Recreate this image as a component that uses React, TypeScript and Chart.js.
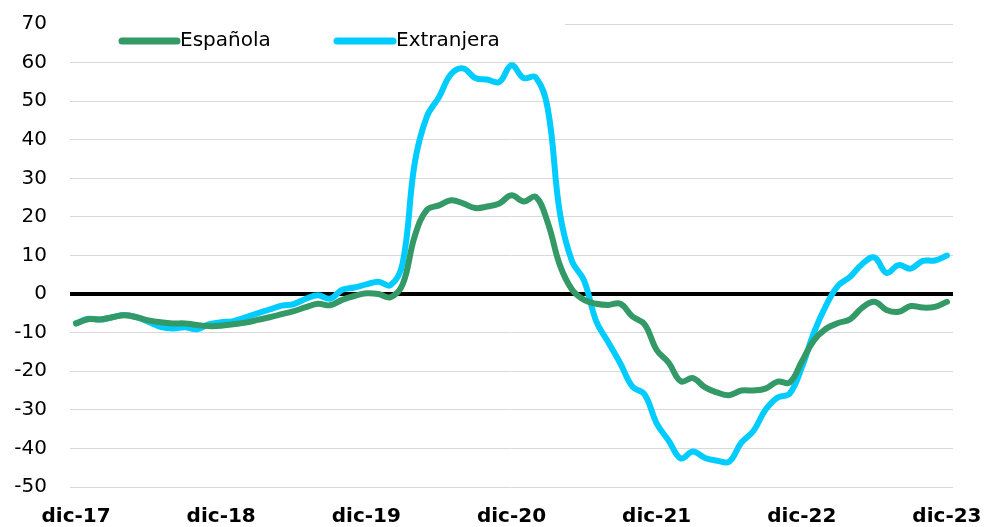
import { useEffect, useRef } from 'react';
import { Chart, registerables } from 'chart.js';

Chart.register(...registerables);

const MONTHS = ['dic', 'ene', 'feb', 'mar', 'abr', 'may', 'jun', 'jul', 'ago', 'sep', 'oct', 'nov'];
const START_YEAR = 17;
const END_YEAR = 23;

const ESPANOLA = [
  -7.6, -6.5, -6.6, -6.0, -5.5, -6.0, -6.8, -7.3, -7.6, -7.6, -8.0, -8.3,
  -8.2, -7.8, -7.4, -6.7, -6.0, -5.2, -4.4, -3.4, -2.5, -2.9, -1.5, -0.5,
  0.2, 0.0, -0.8, 2.5, 15.0, 21.8, 23.0, 24.3, 23.5, 22.3, 22.7, 23.5,
  25.6, 24.0, 25.2, 18.5, 7.5, 1.2, -1.5, -2.5, -2.8, -2.5, -5.8, -7.8,
  -14.5, -17.8, -22.6, -21.8, -24.2, -25.5, -26.2, -25.0, -25.0, -24.5, -22.7, -22.9,
  -17.5, -12.0, -9.0, -7.5, -6.5, -3.5, -2.0, -4.1, -4.6, -3.1, -3.5, -3.3,
  -2.0,
];

const EXTRANJERA = [
  -7.6, -6.4, -6.6, -6.0, -5.4, -6.0, -7.2, -8.5, -8.9, -8.6, -9.1, -7.8,
  -7.3, -7.0, -6.0, -5.0, -4.0, -3.0, -2.6, -1.2, -0.3, -1.2, 1.1, 1.7,
  2.5, 3.2, 2.3, 8.0, 34.0, 46.0, 51.0, 57.0, 58.5, 56.0, 55.6, 55.0,
  59.3, 56.0, 56.2, 48.0, 21.0, 8.5, 3.5, -7.0, -12.5, -18.0, -24.0, -26.0,
  -33.5, -38.0, -42.6, -40.8, -42.5, -43.2, -43.4, -38.5, -35.5, -30.0, -26.8, -25.8,
  -19.0, -10.0, -3.0, 2.2, 4.5, 7.8, 9.5, 5.5, 7.5, 6.6, 8.6, 8.7,
  10.0,
];

const SERIES_NAMES = ['Española', 'Extranjera'];
const SERIES_COLORS = ['#339966', '#00CCFF'];
const Y_MIN = -50;
const Y_MAX = 70;
const Y_STEP = 10;

function buildLabels(): string[] {
  const labels: string[] = [];
  for (let y = START_YEAR; y <= END_YEAR; y++) {
    for (let m = 0; m < 12; m++) {
      if (y === END_YEAR && m > 0) break;
      const year = m === 0 ? y : y + 1;
      labels.push(`${MONTHS[m]}-${year}`);
    }
  }
  return labels;
}

const FONT = '"DejaVu Sans", Verdana, sans-serif';

const inlineLegend = {
  id: 'inlineLegend',
  beforeDatasetsDraw(chart: any) {
    const { ctx, chartArea } = chart;
    ctx.save();
    ctx.fillStyle = '#ffffff';
    ctx.fillRect(chartArea.left, chartArea.top - 6, 495, 40);
    const items = [
      { x0: 122, x1: 177, tx: 180 },
      { x0: 337, x1: 393, tx: 396 },
    ];
    const y = 41;
    items.forEach((it, i) => {
      ctx.strokeStyle = SERIES_COLORS[i];
      ctx.lineWidth = 7;
      ctx.lineCap = 'round';
      ctx.beginPath();
      ctx.moveTo(it.x0, y);
      ctx.lineTo(it.x1, y);
      ctx.stroke();
      ctx.fillStyle = '#000000';
      ctx.font = `20px ${FONT}`;
      ctx.textAlign = 'left';
      ctx.textBaseline = 'middle';
      ctx.fillText(SERIES_NAMES[i], it.tx, y);
    });
    ctx.restore();
  },
};

export default function App() {
  const ref = useRef<HTMLCanvasElement>(null);

  useEffect(() => {
    const labels = buildLabels();
    const chart = new Chart(ref.current as HTMLCanvasElement, {
      type: 'line',
      data: {
        labels,
        datasets: [
          {
            label: SERIES_NAMES[0],
            data: ESPANOLA,
            borderColor: SERIES_COLORS[0],
            backgroundColor: SERIES_COLORS[0],
            borderWidth: 6,
            pointRadius: 0,
            tension: 0.4,
            borderCapStyle: 'round',
            borderJoinStyle: 'round',
            fill: false,
          },
          {
            label: SERIES_NAMES[1],
            data: EXTRANJERA,
            borderColor: SERIES_COLORS[1],
            backgroundColor: SERIES_COLORS[1],
            borderWidth: 6,
            pointRadius: 0,
            tension: 0.4,
            borderCapStyle: 'round',
            borderJoinStyle: 'round',
            fill: false,
          },
        ],
      },
      options: {
        responsive: false,
        animation: false,
        layout: { padding: { top: 24, right: 36, bottom: 0, left: 0 } },
        plugins: {
          legend: { display: false },
          tooltip: { enabled: false },
        },
        scales: {
          x: {
            type: 'category',
            offset: true,
            grid: { display: false, drawTicks: false },
            border: { display: false },
            ticks: {
              autoSkip: false,
              maxRotation: 0,
              minRotation: 0,
              padding: 18,
              color: '#000000',
              font: { family: FONT, size: 20, weight: 'bold' },
              callback: (_v: any, index: number) => (index % 12 === 0 ? labels[index] : ''),
            },
            afterFit: (scale: any) => {
              scale.height = 40;
              scale.paddingLeft = 0;
              scale.paddingRight = 0;
            },
          },
          y: {
            min: Y_MIN,
            max: Y_MAX,
            grid: {
              drawTicks: false,
              color: (c: any) => (c.tick && c.tick.value === 0 ? '#000000' : '#d9d9d9'),
              lineWidth: (c: any) => (c.tick && c.tick.value === 0 ? 4 : 1),
            },
            border: { display: false },
            ticks: {
              stepSize: Y_STEP,
              padding: 23,
              color: '#000000',
              font: { family: FONT, size: 20 },
            },
            afterFit: (scale: any) => {
              scale.width = 70;
              scale.paddingTop = 0;
              scale.paddingBottom = 0;
            },
          },
        },
      },
      plugins: [inlineLegend],
    });
    return () => chart.destroy();
  }, []);

  return (
    <div style={{ position: 'fixed', left: 0, top: 0, width: 989, height: 527, background: '#ffffff' }}>
      <canvas ref={ref} width={989} height={527} style={{ display: 'block' }} />
    </div>
  );
}
